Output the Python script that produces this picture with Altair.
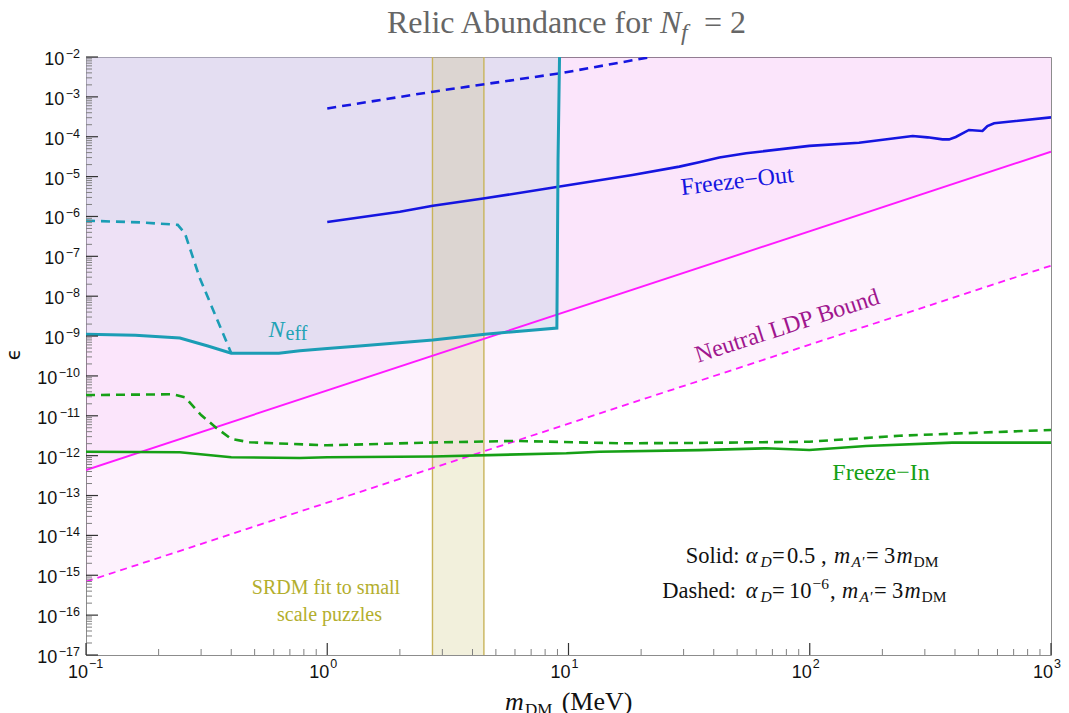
import altair as alt
import pandas as pd

W, H = 965, 598
LEFT, TOP = 86, 57
TOPV = 1e-2

# ---------------- data (eps stored as log10) ----------------
neff_solid_m = [0.1, 0.16, 0.245, 0.32, 0.40, 0.63, 0.77, 1.0, 1.36, 2.74, 4.5, 8.95, 9.05, 9.18]
neff_solid_le = [-8.955, -8.98, -9.05, -9.25, -9.43, -9.43, -9.37, -9.31, -9.25, -9.10, -8.955, -8.80, -4.58, -2.0]

neff_dash_m = [0.1, 0.17, 0.24, 0.257, 0.296, 0.40]
neff_dash_le = [-6.105, -6.15, -6.21, -6.42, -7.54, -9.43]

fo_solid_m = [1.0, 2.0, 2.74, 4.5, 9.2, 18.4, 28.8, 34.8, 42.2, 54.5, 99.6, 160, 267, 308, 355, 378, 403, 457, 520,
              545, 581, 1000]
fo_solid_le = [-6.14, -5.88, -5.73, -5.545, -5.25, -4.96, -4.75, -4.64, -4.52, -4.415, -4.23, -4.15, -3.98, -4.015,
               -4.066, -4.066, -4.006, -3.83, -3.856, -3.731, -3.663, -3.513]

fo_dash_m = [1.0, 2.74, 9.2, 22.0]
fo_dash_le = [-3.29, -2.87, -2.41, -2.0]

fi_solid_m = [0.1, 0.245, 0.40, 0.77, 1.0, 2.74, 9.8, 13.4, 34.8, 65.8, 99.6, 171, 389, 1000]
fi_solid_le = [-11.90, -11.915, -12.04, -12.06, -12.04, -12.02, -11.94, -11.90, -11.86, -11.815, -11.857, -11.757,
               -11.674, -11.674]

fi_dash_m = [0.1, 0.23, 0.257, 0.30, 0.348, 0.40, 0.478, 1.0, 2.74, 6.07, 16.3, 34.8, 99.6, 235, 1000]
fi_dash_le = [-10.48, -10.46, -10.535, -10.98, -11.31, -11.58, -11.665, -11.74, -11.67, -11.63, -11.69, -11.68,
              -11.65, -11.50, -11.355]

ldp_solid_m = [0.1, 1000]
ldp_solid_le = [-12.36, -4.375]
ldp_dash_m = [0.1, 1000]
ldp_dash_le = [-15.16, -7.234]

srdm_band = [2.73, 4.46]

x_decades = [-1, 0, 1, 2, 3]
y_decades = list(range(-17, -1))


def frame(m, le):
    return pd.DataFrame({"m": m, "eps": [10.0 ** v for v in le], "top": TOPV})


xs = alt.Scale(type="log", domain=[0.1, 1000], nice=False)
ys = alt.Scale(type="log", domain=[1e-17, 1e-2], nice=False)

X = lambda: alt.X("m:Q", scale=xs, axis=None)
Y = lambda: alt.Y("eps:Q", scale=ys, axis=None)

# ---------------- shaded regions ----------------
ldp_s = frame(ldp_solid_m, ldp_solid_le)
ldp_d = frame(ldp_dash_m, ldp_dash_le)

grid_axis_x = alt.Axis(values=[10.0 ** k for k in x_decades], grid=True, gridDash=[5, 4], gridColor="#d2d2d2",
                       labels=False, ticks=False, domain=True, domainColor="#444444", title=None)
grid_axis_y = alt.Axis(values=[10.0 ** k for k in y_decades], grid=True, gridDash=[5, 4], gridColor="#d2d2d2",
                       labels=False, ticks=False, domain=True, domainColor="#444444", title=None)

pink1 = alt.Chart(ldp_d).mark_area(color="#d500d5", opacity=0.05).encode(
    x=alt.X("m:Q", scale=xs, axis=grid_axis_x), y=alt.Y("eps:Q", scale=ys, axis=grid_axis_y), y2="top:Q")
pink2 = alt.Chart(ldp_s).mark_area(color="#d500d5", opacity=0.05).encode(x=X(), y=Y(), y2="top:Q")

neff_s = frame(neff_solid_m, neff_solid_le)
neff_d_line = frame(neff_dash_m, neff_dash_le)
neff_d_area = pd.concat([neff_d_line, neff_s[neff_s["m"] > 0.40]], ignore_index=True)

neff_area1 = alt.Chart(neff_s).mark_area(color="#c4d5e7", opacity=0.23).encode(x=X(), y=Y(), y2="top:Q")
neff_area2 = alt.Chart(neff_d_area).mark_area(color="#c4d5e7", opacity=0.23).encode(x=X(), y=Y(), y2="top:Q")

band_df = pd.DataFrame({"x1": [srdm_band[0]], "x2": [srdm_band[1]]})
band = alt.Chart(band_df).mark_rect(color="#b5ab3b", opacity=0.18).encode(
    x=alt.X("x1:Q", scale=xs, axis=None), x2="x2:Q", y=alt.value(0), y2=alt.value(H))
band_edges = alt.Chart(pd.DataFrame({"m": srdm_band})).mark_rule(color="#c9b45a", strokeWidth=1.4).encode(x=X())

# ---------------- curves ----------------
def line(df, color, width, dash=None):
    kw = dict(color=color, strokeWidth=width, clip=True)
    if dash:
        kw["strokeDash"] = dash
    return alt.Chart(df).mark_line(**kw).encode(x=X(), y=Y())

MAG = "#ff1aff"
BLUE = "#1515e0"
GREEN = "#16a016"
TEAL = "#1b9db5"

curves = [
    line(ldp_s, MAG, 1.9),
    line(ldp_d, MAG, 1.8, [7, 5]),
    line(frame(fi_solid_m, fi_solid_le), GREEN, 2.6),
    line(frame(fi_dash_m, fi_dash_le), GREEN, 2.6, [9, 6]),
    line(frame(fo_solid_m, fo_solid_le), BLUE, 2.6),
    line(frame(fo_dash_m, fo_dash_le), BLUE, 2.6, [9, 6]),
    line(neff_s, TEAL, 3.0),
    line(neff_d_line, TEAL, 2.6, [9, 6]),
]

# ---------------- ticks (inward) ----------------
y_major = [10.0 ** k for k in y_decades]
y_minor = [j * 10.0 ** k for k in range(-17, -2) for j in range(2, 10)]
x_major = [10.0 ** k for k in x_decades]
x_minor = [j * 10.0 ** k for k in range(-1, 3) for j in range(2, 10)]

ticks = [
    alt.Chart(pd.DataFrame({"eps": y_major})).mark_rule(color="#333333", strokeWidth=1.2).encode(
        y=Y(), x=alt.value(0), x2=alt.value(12)),
    alt.Chart(pd.DataFrame({"eps": y_minor})).mark_rule(color="#808080", strokeWidth=1).encode(
        y=Y(), x=alt.value(0), x2=alt.value(6)),
    alt.Chart(pd.DataFrame({"m": x_major})).mark_rule(color="#333333", strokeWidth=1.2).encode(
        x=X(), y=alt.value(H), y2=alt.value(H - 12)),
    alt.Chart(pd.DataFrame({"m": x_minor})).mark_rule(color="#808080", strokeWidth=1).encode(
        x=X(), y=alt.value(H), y2=alt.value(H - 6)),
]

# ---------------- tick labels ----------------
def exp_str(k):
    return ("\u2212" + str(-k)) if k < 0 else str(k)

labels = []
for group, base_x in (([k for k in y_decades if k >= -9], -21.7), ([k for k in y_decades if k < -9], -28.7)):
    d = pd.DataFrame({"eps": [10.0 ** k for k in group], "b": "10", "e": [exp_str(k) for k in group]})
    labels.append(alt.Chart(d).mark_text(align="right", baseline="alphabetic", font="Liberation Sans", fontSize=18,
                                         color="#111111", dy=8).encode(y=Y(), x=alt.value(base_x), text="b:N"))
    labels.append(alt.Chart(d).mark_text(align="right", baseline="alphabetic", font="Liberation Sans", fontSize=12.5,
                                         color="#111111", dy=1).encode(y=Y(), x=alt.value(-6), text="e:N"))

dx_ = pd.DataFrame({"m": x_major, "b": "10", "e": [exp_str(k) for k in x_decades]})
labels.append(alt.Chart(dx_).mark_text(align="right", baseline="alphabetic", font="Liberation Sans", fontSize=18,
                                       color="#111111", dx=2).encode(x=X(), y=alt.value(H + 23), text="b:N"))
labels.append(alt.Chart(dx_).mark_text(align="left", baseline="alphabetic", font="Liberation Sans", fontSize=12.5,
                                       color="#111111", dx=3).encode(x=X(), y=alt.value(H + 13), text="e:N"))

# ---------------- text annotations (absolute page pixels) ----------------
SERIF = "Liberation Serif"
GRAY = "#666666"
BLK = "#111111"
LG = 22.5  # legend font size
SB = 15.5  # legend subscript size
segs = [
    # text, x, y(baseline), size, italic, color, align, angle, font
    ("Relic Abundance for", 387, 33.3, 32, False, GRAY, "left", 0, SERIF),
    ("N", 660, 33.3, 32, True, GRAY, "left", 0, SERIF),
    ("f", 681, 40, 24, True, GRAY, "left", 0, SERIF),
    ("=", 704, 33.3, 32, False, GRAY, "left", 0, SERIF),
    ("2", 730, 33.3, 32, False, GRAY, "left", 0, SERIF),
    ("m", 505, 710, 26, True, BLK, "left", 0, SERIF),
    ("DM", 525, 715, 17, False, BLK, "left", 0, SERIF),
    ("(MeV)", 561.7, 710, 26, False, BLK, "left", 0, SERIF),
    ("\u03f5", 14, 354.5, 19, False, BLK, "center", 270, "DejaVu Sans"),
    ("N", 268.5, 336.5, 24, True, "#22a3b5", "left", 0, SERIF),
    ("eff", 285.5, 340, 20, False, "#22a3b5", "left", 0, SERIF),
    ("Freeze\u2212Out", 738, 188.5, 24, False, BLUE, "center", 353.4, SERIF),
    ("Neutral LDP Bound", 789.5, 333, 24, False, "#a0168e", "center", 342, SERIF),
    ("Freeze\u2212In", 832.3, 480, 24, False, GREEN, "left", 0, SERIF),
    ("SRDM fit to small", 326, 594.3, 20, False, "#b3ae2d", "center", 0, SERIF),
    ("scale puzzles", 329.5, 620.5, 20, False, "#b3ae2d", "center", 0, SERIF),
    # legend line 1
    ("Solid:", 685.7, 563.3, LG, False, BLK, "left", 0, SERIF),
    ("\u03b1", 745.7, 563.3, LG, True, BLK, "left", 0, SERIF),
    ("D", 760.5, 567, SB, True, BLK, "left", 0, SERIF),
    ("=", 772, 563.3, LG, False, BLK, "left", 0, SERIF),
    ("0.5", 787, 563.3, LG, False, BLK, "left", 0, SERIF),
    (",", 821, 563.3, LG, False, BLK, "left", 0, SERIF),
    ("m", 834, 563.3, LG, True, BLK, "left", 0, SERIF),
    ("A'", 851.5, 567, SB, True, BLK, "left", 0, SERIF),
    ("=", 866, 563.3, LG, False, BLK, "left", 0, SERIF),
    ("3", 884, 563.3, LG, False, BLK, "left", 0, SERIF),
    ("m", 896.5, 563.3, LG, True, BLK, "left", 0, SERIF),
    ("DM", 913.5, 567, SB, False, BLK, "left", 0, SERIF),
    # legend line 2
    ("Dashed:", 662.3, 598.3, LG, False, BLK, "left", 0, SERIF),
    ("\u03b1", 745.7, 598.3, LG, True, BLK, "left", 0, SERIF),
    ("D", 760.5, 602, SB, True, BLK, "left", 0, SERIF),
    ("=", 772, 598.3, LG, False, BLK, "left", 0, SERIF),
    ("10", 789, 598.3, LG, False, BLK, "left", 0, SERIF),
    ("\u22126", 812.5, 589, SB, False, BLK, "left", 0, SERIF),
    (",", 830, 598.3, LG, False, BLK, "left", 0, SERIF),
    ("m", 842, 598.3, LG, True, BLK, "left", 0, SERIF),
    ("A'", 859.5, 602, SB, True, BLK, "left", 0, SERIF),
    ("=", 874, 598.3, LG, False, BLK, "left", 0, SERIF),
    ("3", 892, 598.3, LG, False, BLK, "left", 0, SERIF),
    ("m", 904.5, 598.3, LG, True, BLK, "left", 0, SERIF),
    ("DM", 921.5, 602, SB, False, BLK, "left", 0, SERIF),
]

texts = []
for t, x, y, size, ital, color, align, angle, font in segs:
    kw = dict(align=align, baseline="middle" if angle == 270 else "alphabetic", fontSize=size, color=color,
              font=font, angle=angle)
    if ital:
        kw["fontStyle"] = "italic"
    texts.append(alt.Chart(pd.DataFrame({"t": [t]})).mark_text(**kw).encode(
        x=alt.value(x - LEFT), y=alt.value(y - TOP), text="t:N"))

chart = alt.layer(pink1, pink2, neff_area1, neff_area2, band, band_edges, *curves, *ticks, *labels, *texts).properties(
    width=W, height=H,
    padding={"left": LEFT, "top": TOP, "right": 1069 - LEFT - W, "bottom": 713 - TOP - H},
    autosize=alt.AutoSizeParams(type="none"),
    background="white",
).configure_view(stroke="#8c8c8c", strokeWidth=1)

chart.save("out.html", embed_options={"renderer": "svg", "actions": False})
